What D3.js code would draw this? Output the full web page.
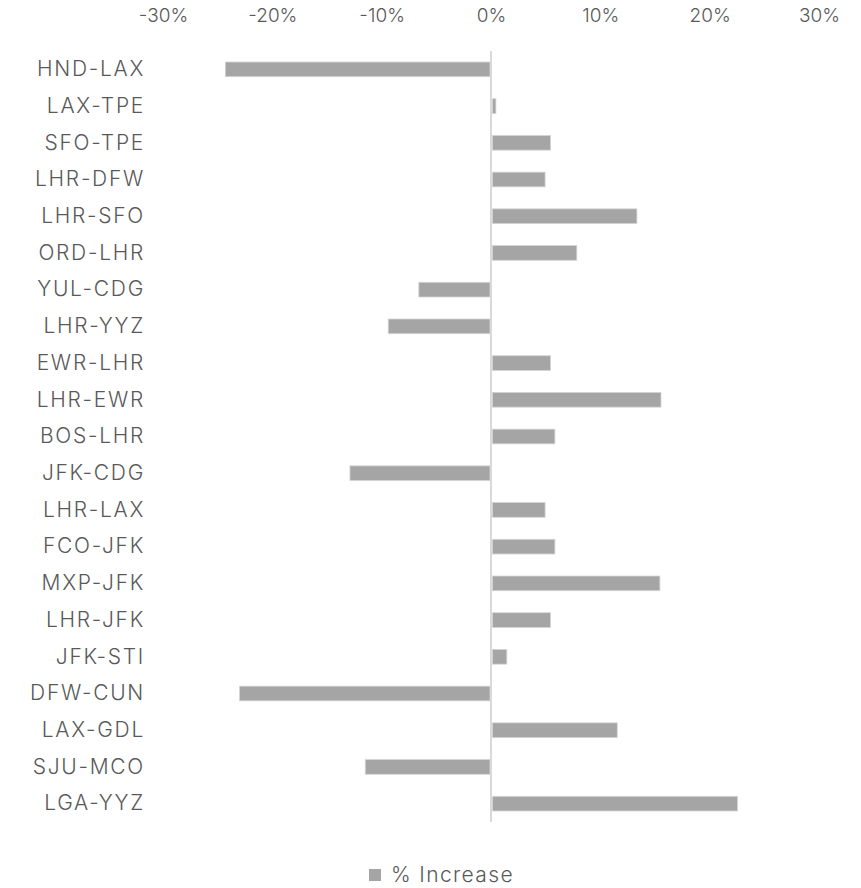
<!DOCTYPE html>
<html>
<head>
<meta charset="utf-8">
<script src="https://cdn.jsdelivr.net/npm/d3@7"></script>
<style>
  html, body { margin: 0; padding: 0; background: #fff; }
  svg text { font-family: Inter, Roboto, sans-serif; font-weight: 300; fill: #595959; }
</style>
</head>
<body>
<svg id="chart" width="861" height="888"></svg>
<script>
// Routes, top to bottom
const routes = ["HND-LAX","LAX-TPE","SFO-TPE","LHR-DFW","LHR-SFO","ORD-LHR","YUL-CDG","LHR-YYZ",
  "EWR-LHR","LHR-EWR","BOS-LHR","JFK-CDG","LHR-LAX","FCO-JFK","MXP-JFK","LHR-JFK","JFK-STI",
  "DFW-CUN","LAX-GDL","SJU-MCO","LGA-YYZ"];
// Percentage change per route
const increase = [-24.3, 0.4, 5.4, 4.9, 13.3, 7.8, -6.6, -9.4,
  5.4, 15.5, 5.8, -12.9, 4.9, 5.8, 15.4, 5.4, 1.4,
  -23.0, 11.5, -11.5, 22.5];
const tickValues = [-30, -20, -10, 0, 10, 20, 30];
const seriesName = "% Increase";

const svg = d3.select("#chart");
const margin = { left: 163, right: 42, top: 51, bottom: 66 };
const W = 861, H = 888;

const x = d3.scaleLinear().domain([-30, 30]).range([margin.left, W - margin.right]);
const y = d3.scaleBand().domain(routes).range([margin.top, H - margin.bottom]).paddingInner(0.6).paddingOuter(0.3);

// Spread a text selection so that a sample string reaches a given width
function spread(sel, sample, target) {
  const probe = svg.append("text").attr("font-size", sel.attr("font-size")).text(sample);
  const w = probe.node().getComputedTextLength();
  probe.remove();
  sel.attr("letter-spacing", Math.max(0, (target - w) / sample.length));
}

// Top axis labels
const xAxis = d3.axisTop(x).tickValues(tickValues).tickSize(0).tickFormat(d => d + "%");
const gx = svg.append("g").attr("transform", "translate(0,25)").call(xAxis);
gx.select(".domain").remove();
const tickText = gx.selectAll("text").attr("font-size", 19).attr("fill", "#595959")
  .style("font-family", "Inter, Roboto, sans-serif").style("font-weight", 300);
spread(tickText, "30%", 35);

// Category labels
const yAxis = d3.axisLeft(y).tickSize(0).tickPadding(0);
const gy = svg.append("g").attr("transform", "translate(145,0)").call(yAxis);
gy.select(".domain").remove();
const catText = gy.selectAll("text").attr("font-size", 21).attr("fill", "#595959")
  .style("font-family", "Inter, Roboto, sans-serif").style("font-weight", 300);
spread(catText, "HND-LAX", 108);

// Bars
svg.append("g").selectAll("rect").data(routes).join("rect")
  .attr("x", (d, i) => increase[i] >= 0 ? x(0) + 1.5 : x(increase[i]))
  .attr("width", (d, i) => Math.max(0, Math.abs(x(increase[i]) - x(0)) - 1))
  .attr("y", d => y(d))
  .attr("height", y.bandwidth())
  .attr("fill", "#a5a5a5")
  .attr("stroke", "#d4d4d4")
  .attr("stroke-width", 0.8);

// Zero line
svg.append("line")
  .attr("x1", x(0)).attr("x2", x(0))
  .attr("y1", margin.top).attr("y2", H - margin.bottom)
  .attr("stroke", "#d9d9d9").attr("stroke-width", 2);

// Legend
const lg = svg.append("g").attr("transform", "translate(369,869)");
lg.append("rect").attr("width", 12).attr("height", 12).attr("fill", "#a5a5a5");
const lgText = lg.append("text").attr("x", 22).attr("y", 13)
  .attr("font-size", 21).text(seriesName);
spread(lgText, seriesName, 123);
</script>
</body>
</html>
